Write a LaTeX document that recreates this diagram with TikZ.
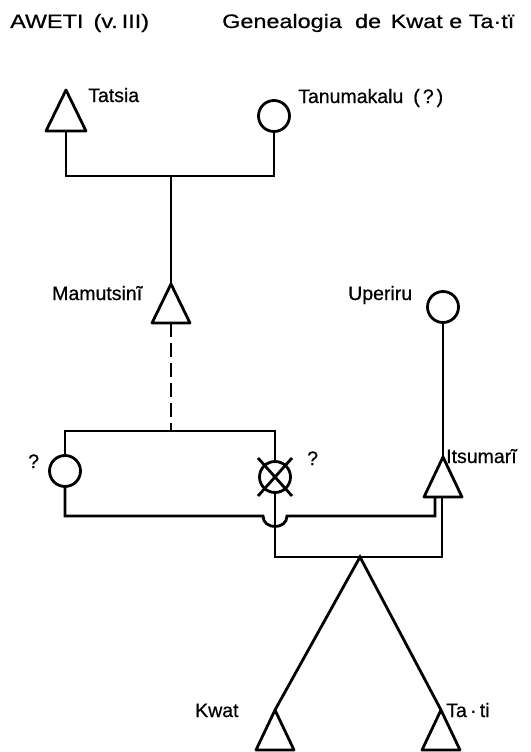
\documentclass[tikz,border=0pt]{standalone}
\usepackage{fontspec}
\setmainfont{Liberation Sans}
\newfontfamily\lbf{Liberation Sans}[FakeBold=0.6]
\begin{document}
\begin{tikzpicture}[x=1pt,y=-1pt,
  ln/.style={line width=2.8pt},
  tri/.style={line width=2.8pt, line join=round},
  dsh/.style={line width=2.8pt, dash pattern=on 14pt off 6pt},
  circ/.style={circle,draw,line width=2.8pt,minimum size=31pt,inner sep=0pt},
  lbl/.style={font=\lbf\fontsize{19.5}{20}\selectfont, inner sep=0pt, anchor=base west},
  ttl/.style={lbl, xscale=1.2}]
\useasboundingbox (0,0) rectangle (530,752);

% titles
\node[ttl] (t1) at (10,28) {AWETI\hspace{3pt} (v.\,III)};
\node[ttl] (t2) at (222,28) {Genealogia\hspace{11pt}de\hspace{8pt}Kwat e Ta·tï};

% first generation
\coordinate (tatsia) at (66,90);
\coordinate (tatsiab) at (66,131);
\draw[tri] (tatsia) -- ++(-20,41) -- ++(40,0) -- cycle;
\node[circ] (tanu) at (274,116) {};
\node[lbl] (ltatsia) at (88,102) {Tatsia};
\node[lbl] (ltanu) at (298,103) {Tanumakalu\hspace{10pt}(\hspace{3pt}?\hspace{3pt})};
\coordinate (m1) at (171,176);
\draw[ln] (tatsiab) |- (m1) -| (tanu.south);

% Mamutsini
\coordinate (mam) at (171,284);
\coordinate (mamb) at (171,323);
\draw[tri] (mam) -- ++(-19,39) -- ++(38,0) -- cycle;
\node[lbl] (lmam) at (52,300) {Mamutsinĩ};
\draw[ln] (m1) -- (mam);

% siblings
\coordinate (m2) at (171,431);
\draw[dsh] (mamb) -- (m2);
\node[circ] (w1) at (65,471) {};
\node[circ] (w2) at (275,477) {};
\draw[ln] (w1.north) |- (m2) -| (w2.north);
\draw[ln] (w2) ++(-17,-19) -- ++(34,38);
\draw[ln] (w2) ++(17,-19) -- ++(-34,38);
\node[lbl] (q1) at (28,468) {?};
\node[lbl] (q2) at (307,465) {?};

% Uperiru and Itsumari
\node[circ] (upe) at (443,307) {};
\node[lbl] (lupe) at (348,300) {Uperiru};
\coordinate (its) at (443,457);
\draw[tri] (its) -- ++(-19,40) -- ++(38,0) -- cycle;
\node[lbl] (lits) at (446,463) {Itsumarĩ};
\draw[ln] (upe.south) -- (its);

% marriages
\coordinate (ib1) at (435,497);
\coordinate (ib2) at (442,497);
\coordinate (hopL) at (263,516);
\coordinate (hopR) at (287,516);
\draw[ln] (w1.south) |- (hopL) .. controls (263,530) and (287,530) .. (hopR) -| (ib1);
\coordinate (m3) at (360,557);
\draw[ln] (w2.south) |- (m3) -| (ib2);

% children
\coordinate (kwat) at (275,710);
\coordinate (tati) at (441,710);
\draw[ln] (kwat) -- (m3) -- (tati);
\draw[tri] (kwat) -- ++(-19,40) -- ++(38,0) -- cycle;
\draw[tri] (tati) -- ++(-19,40) -- ++(38,0) -- cycle;
\node[lbl] (lkwat) at (195,717) {Kwat};
\node[lbl] (ltati) at (446,717) {Ta\,·\,ti};
\end{tikzpicture}
\end{document}
